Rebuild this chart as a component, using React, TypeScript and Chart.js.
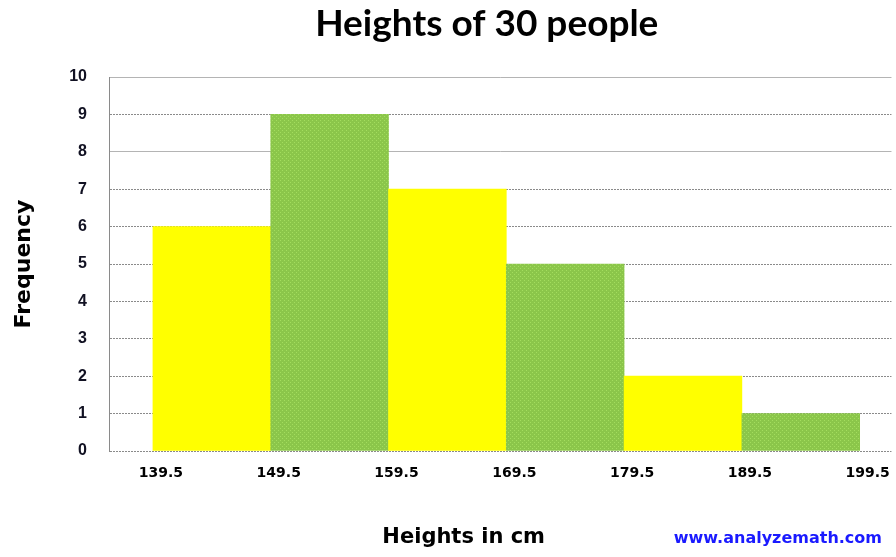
import React, { useEffect, useRef } from "react";
import { Chart, registerables } from "chart.js";

Chart.register(...registerables);

const chartTitle = "Heights of 30 people";
const xAxisTitle = "Heights in cm";
const yAxisTitle = "Frequency";
const sourceText = "www.analyzemath.com";
const binEdges = [139.5, 149.5, 159.5, 169.5, 179.5, 189.5, 199.5];
const frequencies = [6, 9, 7, 5, 2, 1];
const yMin = 0;
const yMax = 10;
const xMin = 135.77;
const xMax = 202.2;

function makeGreenPattern(): CanvasPattern | string {
  const c = document.createElement("canvas");
  c.width = 4;
  c.height = 4;
  const g = c.getContext("2d");
  if (!g) return "#8cc84b";
  g.fillStyle = "#8bc64a";
  g.fillRect(0, 0, 4, 4);
  g.fillStyle = "#a3dd5e";
  g.fillRect(0, 0, 1, 1);
  g.fillRect(2, 2, 1, 1);
  const p = g.createPattern(c, "repeat");
  return p || "#8cc84b";
}

export default function App() {
  const canvasRef = useRef<HTMLCanvasElement | null>(null);

  useEffect(() => {
    if (!canvasRef.current) return;
    const green = makeGreenPattern();
    const points = frequencies.map((f, i) => ({
      x: (binEdges[i] + binEdges[i + 1]) / 2,
      y: f,
    }));
    const chart = new Chart(canvasRef.current, {
      type: "bar",
      data: {
        datasets: [
          {
            data: points as any,
            backgroundColor: (ctx: any) =>
              ctx.dataIndex % 2 === 0 ? "#ffff00" : green,
            borderWidth: 0,
            barPercentage: 1,
            categoryPercentage: 1,
          },
        ],
      },
      options: {
        responsive: false,
        animation: false,
        layout: { padding: { left: 0, right: 3, top: 0, bottom: 0 } },
        plugins: {
          legend: { display: false },
          tooltip: { enabled: false },
          title: {
            display: true,
            text: chartTitle + "   ",
            fullSize: false,
            color: "#000",
            font: { family: "Lato", weight: "bold", size: 37 },
            padding: { top: 2, bottom: 30.6 },
          },
        },
        scales: {
          x: {
            type: "linear",
            offset: false,
            min: xMin,
            max: xMax,
            afterBuildTicks: (scale: any) => {
              scale.ticks = binEdges.map((v) => ({ value: v }));
            },
            afterFit: (scale: any) => {
              scale.height = 106;
            },
            grid: { display: false, drawTicks: false, offset: false },
            border: { display: false },
            ticks: {
              autoSkip: false,
              maxRotation: 0,
              padding: 14,
              labelOffset: 8,
              color: "#000",
              font: { family: "DejaVu Sans", weight: "bold", size: 14 },
              callback: (v: any) => Number(v).toFixed(1),
            },
            title: {
              display: true,
              text: xAxisTitle + "          ",
              color: "#000",
              font: { family: "DejaVu Sans", weight: "bold", size: 21 },
              padding: { top: 0, bottom: 6.4 },
            },
          },
          y: {
            min: yMin,
            max: yMax,
            afterFit: (scale: any) => {
              scale.width = 109;
            },
            grid: {
              drawTicks: false,
              color: (ctx: any) =>
                ctx.tick && (ctx.tick.value === 10 || ctx.tick.value === 8)
                  ? "#b4b4b4"
                  : "#8a8a8a",
              lineWidth: 1,
            },
            border: {
              display: true,
              color: "#8a8a8a",
              dash: (ctx: any) =>
                ctx.tick && (ctx.tick.value === 10 || ctx.tick.value === 8)
                  ? []
                  : [2, 1],
            },
            ticks: {
              stepSize: 1,
              padding: 22,
              color: "#111122",
              font: { family: "Liberation Sans", weight: "bold", size: 16 },
            },
            title: {
              display: true,
              text: yAxisTitle,
              color: "#000",
              font: { family: "DejaVu Sans", weight: "bold", size: 22 },
              padding: { top: 10.8, bottom: 0 },
            },
          },
        },
      },
    });
    return () => chart.destroy();
  }, []);

  return (
    <div
      style={{
        position: "absolute",
        left: 0,
        top: 0,
        width: 896,
        height: 557,
        background: "#fff",
      }}
    >
      <canvas ref={canvasRef} width={896} height={557} style={{ display: "block" }} />
      <div
        style={{
          position: "absolute",
          right: 14,
          top: 528,
          fontFamily: "DejaVu Sans",
          fontWeight: "bold",
          fontSize: 16,
          lineHeight: "20px",
          color: "#1a1aff",
        }}
      >
        {sourceText}
      </div>
    </div>
  );
}
